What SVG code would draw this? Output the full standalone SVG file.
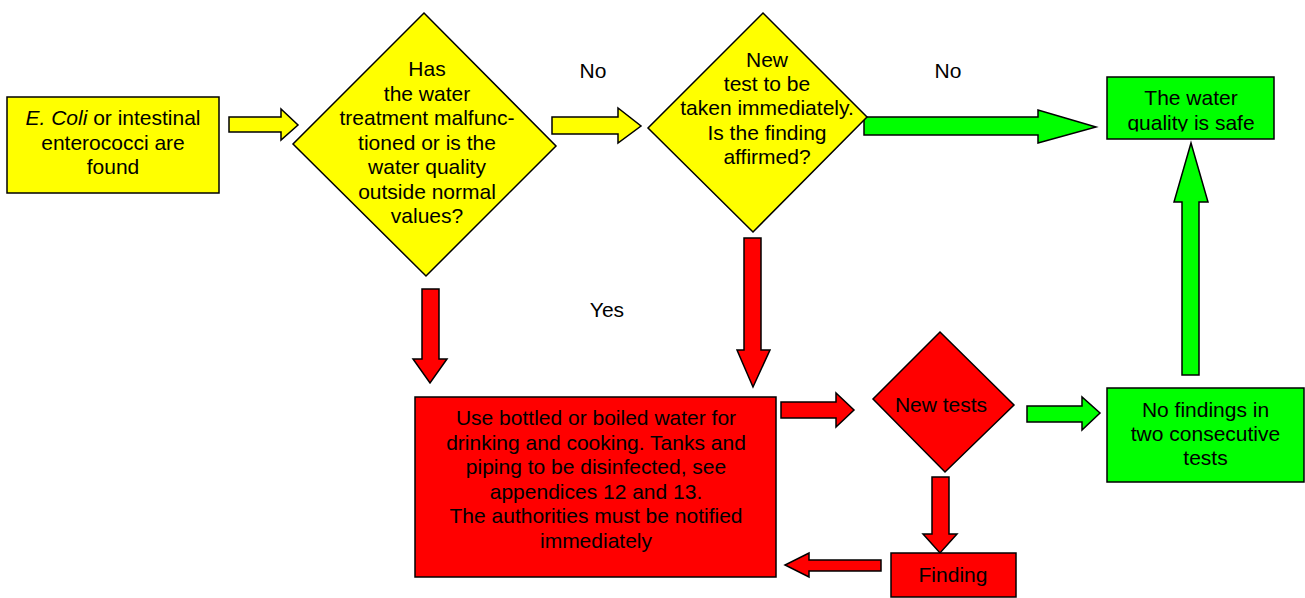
<svg xmlns="http://www.w3.org/2000/svg" width="1305" height="598" viewBox="0 0 1305 598">
<style>
.y{fill:#FFFF00;stroke:#000;stroke-width:1.5}
.r{fill:#FF0000;stroke:#000;stroke-width:1.5}
.g{fill:#00FF00;stroke:#000;stroke-width:1.5}
text{font-family:"Liberation Sans",Arial,sans-serif;font-size:21px;fill:#000;text-anchor:middle}
</style>
<defs>
<clipPath id="safeclip"><rect x="1107" y="77" width="167" height="54.5"/></clipPath>
</defs>
<rect width="1305" height="598" fill="#fff"/>
<g id="connectors">
<polygon class="y" points="229,117 281,117 281,109 298,125 281,140 281,132 229,132"/>
<polygon class="y" points="552,117 618,117 618,108 641,126 618,143 618,134 552,134"/>
<polygon class="g" points="864,117 1038,117 1038,110 1096,127 1038,143 1038,135 864,135"/>
<polygon class="g" points="1182,375 1182,202 1174,202 1191,143 1208,202 1199,202 1199,375"/>
<polygon class="g" points="1027,406 1082,406 1082,397 1100,413 1082,430 1082,422 1027,422"/>
<polygon class="r" points="422,289 439,289 439,359 447,359 430,383 413,359 422,359"/>
<polygon class="r" points="744,238 761,238 761,350 770,350 753,387 737,350 744,350"/>
<polygon class="r" points="781,402 836,402 836,393 854,410 836,427 836,418 781,418"/>
<polygon class="r" points="932,477 949,477 949,534 957,534 940,553 923,534 932,534"/>
<polygon class="r" points="881,560 809,560 809,553 785,565 809,577 809,571 881,571"/>
<text x="593" y="78">No</text>
<text x="948" y="78">No</text>
<text x="607" y="317">Yes</text>
</g>
<g id="start">
<rect class="y" x="7" y="97" width="212" height="96"/>
<text x="113" y="125"><tspan font-style="italic">E. Coli</tspan> or intestinal</text>
<text x="113" y="150">enterococci are</text>
<text x="113" y="174">found</text>
</g>
<g id="decision1">
<polygon class="y" points="424,13 556,146 426,276 293,144"/>
<text x="427" y="76">Has</text>
<text x="427" y="101">the water</text>
<text x="427" y="125">treatment malfunc-</text>
<text x="427" y="150">tioned or is the</text>
<text x="427" y="174">water quality</text>
<text x="427" y="199">outside normal</text>
<text x="427" y="223">values?</text>
</g>
<g id="decision2">
<polygon class="y" points="763,13 867,117 753,232 648,128"/>
<text x="767" y="67">New</text>
<text x="767" y="91">test to be</text>
<text x="767" y="115">taken immediately.</text>
<text x="767" y="140">Is the finding</text>
<text x="767" y="164">affirmed?</text>
</g>
<g id="safe">
<rect class="g" x="1107" y="77" width="167" height="62"/>
<g clip-path="url(#safeclip)">
<text x="1191" y="105">The water</text>
<text x="1191" y="130">quality is safe</text>
</g>
</g>
<g id="action">
<rect class="r" x="415" y="397" width="361" height="180"/>
<text x="596" y="425">Use bottled or boiled water for</text>
<text x="596" y="449.5">drinking and cooking. Tanks and</text>
<text x="596" y="474">piping to be disinfected, see</text>
<text x="596" y="498.5">appendices 12 and 13.</text>
<text x="596" y="523">The authorities must be notified</text>
<text x="596" y="547.5">immediately</text>
</g>
<g id="newtests">
<polygon class="r" points="940,332 1014,405 945,472 873,399"/>
<text x="941" y="412">New tests</text>
</g>
<g id="nofindings">
<rect class="g" x="1107" y="388" width="197" height="94"/>
<text x="1205.5" y="417">No findings in</text>
<text x="1205.5" y="441">two consecutive</text>
<text x="1205.5" y="465">tests</text>
</g>
<g id="finding">
<rect class="r" x="891" y="553" width="125" height="44"/>
<text x="953" y="582">Finding</text>
</g>
</svg>
